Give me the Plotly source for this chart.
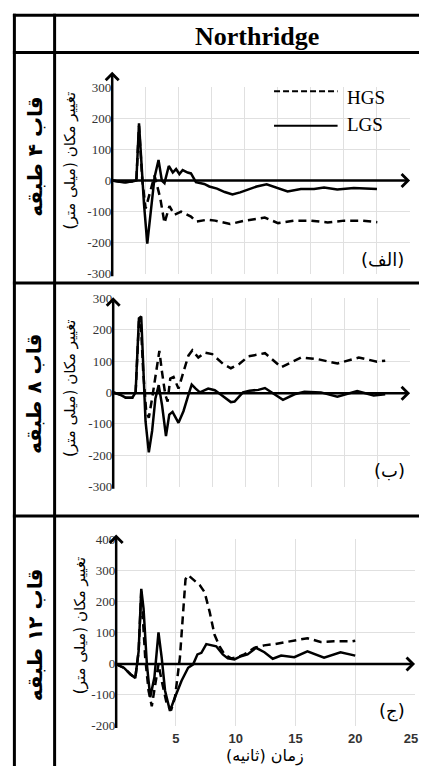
import plotly.graph_objects as go

W, H = 422, 774


def px(x):
    return x / W


def py(y):
    return 1 - y / H


# ---------------- data ----------------
# Panel (الف) : 4-storey frame
p1_t_lgs = [0, 1.1, 1.9, 2.19, 2.43, 2.64, 2.88, 3.18, 3.48, 3.84, 4.2, 4.5, 4.74, 5.13, 5.49, 5.79,
            6.09, 6.39, 6.84, 7.14, 7.59, 8.34, 8.8, 9.5, 10.2, 10.9, 11.6, 12.3, 13.1, 14.0, 15.0,
            15.9, 17.1, 18.3, 19.2, 20.4, 21.9, 23.1, 24.0]
p1_lgs = [0, -6, -2, 0, 184, 53, -74, -203, -105, 11, 66, 0, -8, 47, 26, 37,
          21, 34, 26, 23, -5, -11, -19, -26, -37, -45, -38, -30, -19, -12, -24,
          -35, -27, -27, -22, -29, -24, -27, -27]
p1_t_hgs = [0, 1.1, 1.9, 2.19, 2.43, 2.73, 3.03, 3.84, 4.35, 4.74, 5.19, 5.64, 6.24, 7.14, 7.59,
            8.64, 9.33, 10.68, 12.03, 13.83, 15.03, 16.53, 18.03, 19.53, 21.03, 22.53, 24.03]
p1_hgs = [0, -6, -2, 0, 176, 0, -90, 16, -55, -137, -82, -110, -100, -116, -132,
          -126, -129, -140, -129, -119, -137, -129, -129, -135, -129, -129, -134]

# Panel (ب) : 8-storey frame
p2_t_lgs = [0, 0.54, 1.14, 1.74, 2.04, 2.34, 2.55, 2.7, 2.94, 3.24, 3.54, 3.84, 4.14, 4.44, 4.8,
            5.1, 5.4, 5.94, 6.39, 6.84, 7.14, 7.5, 7.89, 8.64, 9.24, 9.84, 10.7, 11.04, 11.8,
            12.4, 13.2, 13.8, 14.54, 15.44, 16.49, 17.39, 18.89, 20.39, 22.19, 23.69, 24.74]
p2_lgs = [0, -6, -17, -17, 0, 236, 242, 117, -92, -191, -123, -19, 23, -40, -139,
          -71, -62, -97, -60, -8, 25, 12, 0, 12, 7, -8, -31, -29, 0,
          5, 8, 14, -3, -24, -6, 2, 0, -14, 4, -10, -6]
p2_t_hgs = [0, 0.54, 1.14, 1.74, 2.04, 2.34, 2.5, 2.73, 3.0, 3.24, 3.54, 3.9, 4.2, 4.44, 4.74,
            4.95, 5.19, 5.49, 5.94, 6.39, 6.84, 7.2, 7.74, 8.34, 9.0, 9.99, 10.7, 11.49, 12.29,
            13.1, 13.8, 15.29, 17.09, 18.59, 20.39, 22.34, 23.99, 24.74]
p2_hgs = [0, -6, -17, -17, 0, 225, 231, 65, -60, -81, -19, 65, 132, 65, -8,
          -29, 44, 49, 12, 65, 117, 134, 111, 127, 122, 91, 77, 91, 115,
          120, 125, 80, 111, 106, 92, 111, 98, 101]

# Panel (ج) : 12-storey frame
p3_t_lgs = [0, 0.64, 1.19, 1.6, 1.88, 2.1, 2.29, 2.57, 2.85, 3.2, 3.54, 3.81, 4.09, 4.5, 4.92,
            5.47, 6.02, 6.44, 6.8, 7.13, 7.54, 7.96, 8.37, 8.92, 9.34, 9.89, 10.44, 10.99, 11.7,
            12.4, 13.1, 13.8, 14.9, 16.0, 17.39, 18.77, 20.0]
p3_lgs = [-2, -13, -34, -46, 40, 241, 177, -2, -108, -44, 101, 19, -87, -152, -108,
          -55, -13, -2, 30, 35, 63, 59, 56, 30, 17, 14, 24, 30, 51,
          37, 16, 26, 21, 40, 19, 37, 26]
p3_t_hgs = [0, 0.64, 1.19, 1.6, 1.88, 2.1, 2.43, 2.71, 2.98, 3.26, 3.54, 3.81, 4.23, 4.59, 4.92,
            5.33, 5.61, 5.8, 6.02, 6.44, 6.99, 7.4, 7.82, 8.23, 8.65, 9.06, 9.61, 10.17, 10.72,
            11.55, 12.38, 13.24, 14.6, 16.0, 17.1, 18.2, 19.7, 20.0]
p3_hgs = [-2, -13, -34, -46, 40, 232, 19, -87, -137, -65, -2, -55, -129, -150, -108,
          19, 177, 272, 285, 272, 253, 230, 167, 93, 56, 30, 17, 21, 30,
          51, 59, 63, 72, 82, 70, 72, 72, 74]

# tick labels
y_ticks_12 = [-300, -200, -100, 0, 100, 200, 300]
y_ticktext_12 = ["-300", "-200", "-100", "0", "100", "200", "300"]
y_ticks_3 = [-200, -100, 0, 100, 200, 300, 400]
y_ticktext_3 = ["-200", "-100", "0", "100", "200", "300", "400"]
x_grid_12 = [3, 6, 9, 12, 15, 18, 21, 24, 27]
x_ticks_3 = [5, 10, 15, 20, 25]
x_ticktext_3 = ["5", "10", "15", "20", ""]
x_last_tick = [25]
x_last_text = ["25"]

header = "Northridge"
row_labels = ["قاب ۴ طبقه", "قاب ۸ طبقه", "قاب ۱۲ طبقه"]
panel_labels = ["(الف)", "(ب)", "(ج)"]
y_title = "تغییر مکان (میلی متر)"
x_title = "زمان (ثانیه)"
legend_names = ["HGS", "LGS"]

# ---------------- figure ----------------
fig = go.Figure()
DASH = "8px,5px"
LW = 2.5
panels = [
    ("x", "y", p1_t_hgs, p1_hgs, p1_t_lgs, p1_lgs),
    ("x2", "y2", p2_t_hgs, p2_hgs, p2_t_lgs, p2_lgs),
    ("x3", "y3", p3_t_hgs, p3_hgs, p3_t_lgs, p3_lgs),
]
for xa, ya, th, vh, tl, vl in panels:
    fig.add_trace(go.Scatter(x=th, y=vh, xaxis=xa, yaxis=ya, mode="lines", name="HGS",
                             line=dict(color="black", width=LW, dash=DASH), showlegend=False))
    fig.add_trace(go.Scatter(x=tl, y=vl, xaxis=xa, yaxis=ya, mode="lines", name="LGS",
                             line=dict(color="black", width=LW), showlegend=False))
# empty helper trace so the overlay axis carrying the last tick label is drawn
fig.add_trace(go.Scatter(x=[], y=[], xaxis="x4", yaxis="y3", mode="lines", showlegend=False,
                         hoverinfo="skip"))

GRID = "#e0e0e0"
ytickfont = dict(family="Liberation Serif", size=13, color="#333")
xtickfont = dict(family="Liberation Sans Narrow, Liberation Sans", size=13, weight="bold",
                 color="#333")
common = dict(showgrid=True, gridcolor=GRID, gridwidth=1, zeroline=False, showline=False, ticks="")

layout = dict(
    width=W, height=H, margin=dict(l=0, r=0, t=0, b=0),
    paper_bgcolor="white", plot_bgcolor="white", showlegend=False,
    xaxis=dict(domain=[px(113), px(413)], range=[0, 27], tickvals=x_grid_12,
               showticklabels=False, anchor="y", **common),
    yaxis=dict(domain=[py(272), py(82)], range=[-300, 300], tickvals=y_ticks_12,
               ticktext=y_ticktext_12, tickfont=ytickfont, anchor="x", **common),
    xaxis2=dict(domain=[px(114), px(413)], range=[0, 27], tickvals=x_grid_12,
                showticklabels=False, anchor="y2", **common),
    yaxis2=dict(domain=[py(489), py(297)], range=[-300, 300], tickvals=y_ticks_12,
                ticktext=y_ticktext_12, tickfont=ytickfont, anchor="x2", **common),
    xaxis3=dict(domain=[px(117), px(418)], range=[0, 25], tickvals=x_ticks_3,
                ticktext=x_ticktext_3, anchor="y3", ticklabelstandoff=3,
                tickfont=xtickfont, **common),
    xaxis4=dict(domain=[px(117), px(418)], range=[0, 25], tickvals=x_last_tick,
                ticktext=x_last_text, anchor="y3", overlaying="x3", side="bottom",
                ticklabelstandoff=3, ticklabelshift=-4, ticklabeloverflow="allow",
                showgrid=False, zeroline=False, showline=False, ticks="",
                tickfont=xtickfont),
    yaxis3=dict(domain=[py(733), py(543)], range=[-200, 400], tickvals=y_ticks_3,
                ticktext=y_ticktext_3, tickfont=ytickfont, anchor="x3", **common),
)
fig.update_layout(**layout)

# table lines
shapes = []
BL = dict(color="black", width=3)
for yy in [8.5, 46.5, 281.5, 519]:
    shapes.append(dict(type="line", xref="paper", yref="paper", x0=px(13), x1=px(422),
                       y0=py(yy), y1=py(yy), line=BL))
for xx in [14.5, 55]:
    shapes.append(dict(type="line", xref="paper", yref="paper", x0=px(xx), x1=px(xx),
                       y0=py(7), y1=py(774), line=BL))
# legend samples
shapes.append(dict(type="line", xref="paper", yref="paper", x0=px(276), x1=px(340),
                   y0=py(86), y1=py(86), line=dict(color="black", width=2, dash="6px,3px")))
shapes.append(dict(type="line", xref="paper", yref="paper", x0=px(276), x1=px(340),
                   y0=py(121), y1=py(121), line=dict(color="black", width=2)))
fig.update_layout(shapes=shapes)

ann = []
# axis arrows (tip position, tail offset in pixels)
arrows = [
    (113, 66, 0, 206), (413, 177, -300, 0),
    (114, 296, 0, 193), (413, 394, -299, 0),
    (117, 538, 0, 195), (418, 670, -301, 0),
]
for x, y, ax, ay in arrows:
    ann.append(dict(xref="paper", yref="paper", x=px(x), y=py(y), ax=ax, ay=ay, text="",
                    showarrow=True, arrowhead=4, arrowsize=1.0, arrowwidth=2.5,
                    arrowcolor="black"))

ann.append(dict(xref="paper", yref="paper", x=px(259), y=py(30), text=header, showarrow=False,
                font=dict(family="Liberation Serif", size=26, color="black", weight="bold"),
                xanchor="center", yanchor="middle"))
for lab, (cx, cy) in zip(row_labels, [(35, 153), (35, 395), (35, 640)]):
    ann.append(dict(xref="paper", yref="paper", x=px(cx), y=py(cy), text=lab, showarrow=False,
                    textangle=-90, font=dict(family="DejaVu Sans", size=20, color="black",
                                             weight="bold"),
                    xanchor="center", yanchor="middle"))
for (cx, cy) in [(70, 157), (71, 388), (80, 630)]:
    ann.append(dict(xref="paper", yref="paper", x=px(cx), y=py(cy), text=y_title, showarrow=False,
                    textangle=-90, font=dict(family="DejaVu Sans", size=15, color="black"),
                    xanchor="center", yanchor="middle"))
for lab, (cx, cy) in zip(panel_labels, [(385, 257), (392, 473), (395, 718)]):
    ann.append(dict(xref="paper", yref="paper", x=px(cx), y=py(cy), text=lab, showarrow=False,
                    font=dict(family="DejaVu Sans", size=18, color="black"),
                    xanchor="center", yanchor="middle"))
ann.append(dict(xref="paper", yref="paper", x=px(267), y=py(764), text=x_title, showarrow=False,
                font=dict(family="DejaVu Sans", size=16, color="black"),
                xanchor="center", yanchor="middle"))
for name, yy in zip(legend_names, [92, 120]):
    ann.append(dict(xref="paper", yref="paper", x=px(347), y=py(yy), text=name, showarrow=False,
                    font=dict(family="Liberation Serif", size=19, color="black"),
                    xanchor="left", yanchor="middle"))
fig.update_layout(annotations=ann)

fig.write_html(
    "out.html", config={"displayModeBar": False},
    post_script=("document.documentElement.style.overflow='hidden';"
                 "document.body.style.margin='0';document.body.style.overflow='hidden';"),
)
